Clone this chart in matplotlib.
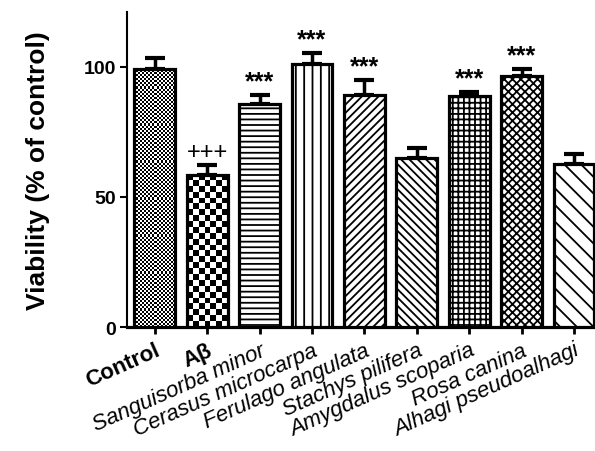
import numpy as np
import matplotlib
matplotlib.use('Agg')
import matplotlib.pyplot as plt

plt.rcParams.update({
    'font.family': 'Liberation Sans',
    'hatch.linewidth': 1.3,
})

categories = ['Control', 'Aβ', 'Sanguisorba minor', 'Cerasus microcarpa',
              'Ferulago angulata', 'Stachys pilifera', 'Amygdalus scoparia',
              'Rosa canina', 'Alhagi pseudoalhagi']
means = [99.2, 58.6, 85.8, 101.1, 89.3, 64.8, 88.9, 96.6, 62.8]
sems = [4.2, 3.5, 3.2, 4.1, 5.6, 4.0, 1.4, 2.5, 3.8]
marks = ['', '+++', '***', '***', '***', '', '***', '***', '']

# hatch per bar; None -> checkerboard drawn with imshow (cells per bar width)
hatches = [None, None, '---', '||', '////', '\\\\\\\\', '+++', 'xxxx', '\\\\']
checker_cols = {0: 20, 1: 7}

width = 0.78
x = np.arange(len(categories))

fig = plt.figure(figsize=(5.95, 4.52), dpi=100)
ax = fig.add_axes([0.2134, 0.274, 0.7866, 0.697])

ax.errorbar(x, means, yerr=[np.zeros(len(sems)), sems], fmt='none',
            ecolor='black', elinewidth=2.5, capsize=7, capthick=3, zorder=2)

for i, (xi, m, h) in enumerate(zip(x, means, hatches)):
    if h is None:
        face = ax.bar(xi, m, width=width, color='white', linewidth=0, zorder=3)[0]
        ncol = checker_cols[i]
        cell_px = 41.0 / ncol
        nrow = int(round(m * 2.61 / cell_px))
        checker = (np.indices((nrow, ncol)).sum(axis=0) % 2).astype(float)
        im = ax.imshow(checker, extent=(xi - width/2, xi + width/2, 0, m),
                       aspect='auto', cmap='gray', interpolation='nearest',
                       zorder=3.5)
        im.set_clip_path(face)
        ax.bar(xi, m, width=width, fill=False, edgecolor='black',
               linewidth=2.3, zorder=4)
    else:
        ax.bar(xi, m, width=width, color='white', edgecolor='black',
               linewidth=2.3, hatch=h, zorder=4)

for xi, m, s, t in zip(x, means, sems, marks):
    if t == '***':
        ax.text(xi, m + s + 0.8, t, ha='center', va='bottom', fontsize=18,
                fontweight='bold')
    elif t:
        ax.text(xi, m + s + 0.8, t, ha='center', va='bottom', fontsize=17)

ax.set_xlim(-0.53, 8.4)
ax.set_ylim(0, 121)
ax.set_yticks([0, 50, 100])
ax.set_yticklabels(['0', '50', '100'], fontsize=14, fontweight='bold')
ax.set_xticks(x)
ax.set_xticklabels(categories, rotation=24, ha='right', va='top',
                   rotation_mode='anchor', fontsize=16)
for i, lab in enumerate(ax.get_xticklabels()):
    if i < 2:
        lab.set_fontweight('bold')
    else:
        lab.set_fontstyle('italic')

ax.set_ylabel('Viability (% of control)', fontsize=19, fontweight='bold',
              labelpad=24)

ax.spines['top'].set_visible(False)
ax.spines['right'].set_visible(False)
ax.spines['left'].set_linewidth(1.5)
ax.spines['bottom'].set_linewidth(2.3)
ax.tick_params(axis='y', length=5, width=1.5, pad=3)
ax.tick_params(axis='x', length=5, width=2, pad=4)

fig.savefig('out.png', dpi=100)
